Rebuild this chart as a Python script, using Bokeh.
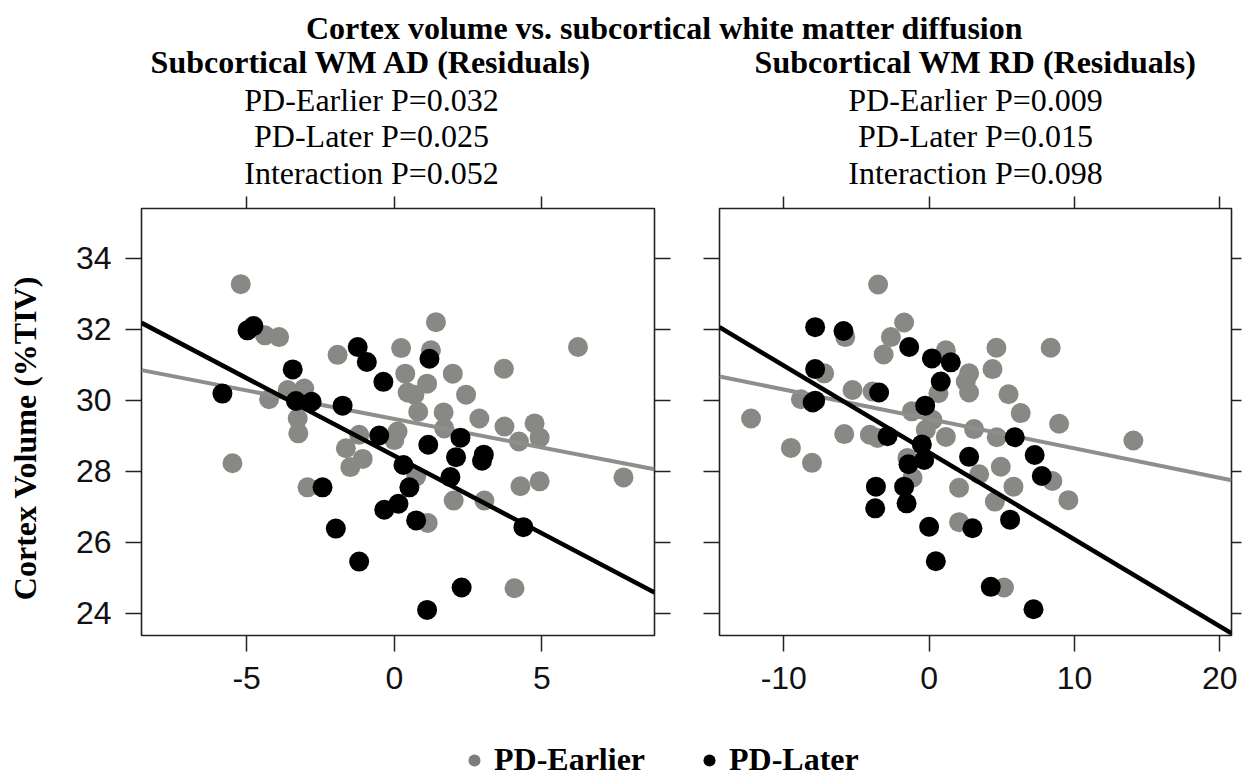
from bokeh.plotting import figure
from bokeh.models import Range1d, FixedTicker, LinearAxis, Legend, LegendItem
from bokeh.layouts import column, row
from bokeh.core.properties import value
from bokeh.embed import file_html
from bokeh.resources import INLINE

# ---------------- data ----------------
ad_earlier_x = [-5.20, -4.38, -3.90, -1.92, -4.24, -3.61, -3.05, -3.27, -3.25, -5.48, -1.64, -1.19,
                -1.07, -1.49, -2.94, 0.23, 1.41, 1.24, 0.37, 1.11, 1.98, 0.45, 0.68, 2.43, 3.71, 6.22,
                0.81, 1.67, 1.69, 2.88, 3.73, 4.75, 4.92, 4.22, 0.11, 0.00, 0.74, 2.01, 3.05, 4.27,
                4.92, 1.13, 4.07, 7.76]
ad_earlier_y = [33.27, 31.83, 31.78, 31.28, 30.03, 30.29, 30.33, 29.49, 29.07, 28.23, 28.65, 29.03,
                28.35, 28.12, 27.55, 31.47, 32.20, 31.41, 30.75, 30.47, 30.75, 30.22, 30.16, 30.16, 30.89, 31.50,
                29.68, 29.66, 29.21, 29.49, 29.26, 29.35, 28.95, 28.84, 29.12, 28.88, 27.86, 27.18, 27.18, 27.58,
                27.72, 26.55, 24.71, 27.83]
ad_later_x = [-4.97, -4.77, -5.82, -3.44, -3.33, -2.80, -1.75, -1.24, -0.93, -0.37, -0.51, 1.19,
              1.15, 2.24, 2.09, 3.03, 2.97, 1.90, 0.31, 0.51, 0.14, -0.34, 0.74, -2.43, -1.98,
              -1.19, 4.37, 2.28, 1.11]
ad_later_y = [31.97, 32.09, 30.19, 30.87, 29.98, 29.96, 29.85, 31.50, 31.08, 30.52, 29.01, 31.17,
              28.75, 28.95, 28.40, 28.47, 28.30, 27.84, 28.18, 27.55, 27.09, 26.92, 26.62, 27.55, 26.39,
              25.46, 26.43, 24.73, 24.10]

rd_earlier_x = [-3.51, -1.72, -2.63, -3.13, -5.77, 1.15, -7.22, -8.82, -5.27, -3.89, -12.25, -9.51,
                -8.06, -5.84, -4.08, -3.55, -1.19, 0.23, -0.23, 1.15, 0.64, -1.49, -1.14, 2.06, 2.06,
                2.52, 2.75, 2.75, 4.63, 8.36, 4.36, 5.46, 6.30, 8.94, 14.05, 3.09, 4.65, 4.93, 5.80,
                8.48, 9.58, 4.52, 3.44, 5.15]
rd_earlier_y = [33.26, 32.19, 31.78, 31.29, 31.78, 31.41, 30.76, 30.03, 30.29, 30.25, 29.49, 28.66,
                28.24, 29.05, 29.03, 28.94, 29.69, 29.45, 29.17, 28.97, 30.20, 28.38, 27.82, 27.54, 26.57,
                30.53, 30.76, 30.22, 31.48, 31.48, 30.88, 30.17, 29.64, 29.34, 28.87, 29.19, 28.96, 28.13, 27.57,
                27.73, 27.19, 27.15, 27.92, 24.73]
rd_later_x = [-7.84, -5.89, -1.37, 0.19, 1.49, 0.80, -7.84, -7.84, -3.44, -0.27, -2.86, -0.50,
              -0.34, -1.42, -3.66, -1.72, -1.55, -3.71, 0.00, 0.46, 5.89, 7.26, 7.75, 2.75, 5.57,
              2.98, 4.24, 7.18, -8.01]
rd_later_y = [32.06, 31.95, 31.50, 31.18, 31.07, 30.53, 30.88, 29.99, 30.22, 29.85, 28.99, 28.76,
              28.32, 28.20, 27.57, 27.57, 27.10, 26.96, 26.44, 25.47, 28.96, 28.46, 27.87, 28.41, 26.64,
              26.40, 24.75, 24.12, 29.94]

# fitted lines (intercept, slope)
ad_earlier_fit = (29.475, -0.1606)
ad_later_fit = (28.44, -0.437)
rd_earlier_fit = (29.475, -0.0829)
rd_later_fit = (28.53, -0.2447)

ad_xticks = [-5, 0, 5]
rd_xticks = [-10, 0, 10, 20]
y_ticks = [24, 26, 28, 30, 32, 34]

main_title = "Cortex volume vs. subcortical white matter diffusion"
panel_titles = ["Subcortical WM AD (Residuals)", "Subcortical WM RD (Residuals)"]
panel_stats = [["PD-Earlier P=0.032", "PD-Later P=0.025", "Interaction P=0.052"],
               ["PD-Earlier P=0.009", "PD-Later P=0.015", "Interaction P=0.098"]]
y_label = "Cortex Volume (%TIV)"
group_names = ["PD-Earlier", "PD-Later"]

# ---------------- style ----------------
GRAY_PT = "#888984"
GRAY_LN = "#8e8e8c"
BLACK = "#000000"
SERIF = "Liberation Serif"
SANS = "Liberation Sans"
W = 1243
HEAD_H = 192
PANEL_H = 530
FOOT_H = 56
YLAB_W = 60
FRAME_H = 429


def blank(width, height):
    p = figure(width=width, height=height, x_range=Range1d(0, width), y_range=Range1d(height, 0),
               x_axis_type=None, y_axis_type=None, toolbar_location=None, output_backend="svg",
               min_border=0, outline_line_color=None)
    p.grid.visible = False
    return p


# header with titles
head = blank(W, HEAD_H)
bx, by, bt, nx, ny, nt = [664], [27], [main_title], [], [], []
centers = [371, 975]
for c, t, stats in zip(centers, panel_titles, panel_stats):
    bx.append(c); by.append(61); bt.append(t)
    for k, s in enumerate(stats):
        nx.append(c); ny.append(99 + 36.5 * k); nt.append(s)
head.text(x=bx, y=by, text=bt, text_font=value(SERIF), text_font_style="bold",
          text_font_size="32px", text_align="center", text_baseline="alphabetic", text_color="black")
head.text(x=nx, y=ny, text=nt, text_font=value(SERIF), text_font_style="normal",
          text_font_size="32px", text_align="center", text_baseline="alphabetic", text_color="black")

# y label strip
ylab = blank(YLAB_W, PANEL_H)
ylab.text(x=[24.5], y=[285], text=[y_label], angle=1.5707963, text_font=value(SERIF),
          text_font_style="bold", text_font_size="32px", text_align="center",
          text_baseline="alphabetic", text_color="black")


def mirror_axis(ticks, tick_out):
    return LinearAxis(ticker=FixedTicker(ticks=ticks), axis_line_color=None,
                      major_tick_line_color="#222222", major_tick_line_width=1.5,
                      major_tick_out=tick_out, major_tick_in=0, minor_tick_line_color=None,
                      major_label_text_font_size="1px", major_label_text_color=None,
                      major_label_standoff=0)


def panel(width, xr, xticks, ex, ey, lx, ly, efit, lfit, border_left, border_right, border_top,
          show_ylabels, right_tick):
    p = figure(width=width, height=PANEL_H, x_range=Range1d(*xr), y_range=Range1d(23.38, 35.40),
               toolbar_location=None, output_backend="svg",
               min_border_left=border_left, min_border_right=border_right,
               min_border_top=border_top, min_border_bottom=PANEL_H - border_top - FRAME_H,
               outline_line_color="#222222", outline_line_width=1.6, background_fill_color="white")
    p.grid.visible = False
    for ax in p.axis:
        ax.axis_line_color = None
        ax.major_tick_line_color = "#222222"
        ax.major_tick_line_width = 1.5
        ax.major_tick_out = 16
        ax.major_tick_in = 0
        ax.minor_tick_line_color = None
        ax.major_label_text_font = SANS
        ax.major_label_text_font_size = "32px"
        ax.major_label_text_color = "#111111"
    p.xaxis.ticker = FixedTicker(ticks=xticks)
    p.xaxis.major_label_overrides = {t: str(t) for t in xticks}
    p.xaxis.major_label_standoff = 15
    p.yaxis.ticker = FixedTicker(ticks=y_ticks)
    p.yaxis.major_label_overrides = {t: str(t) for t in y_ticks}
    p.yaxis.major_label_standoff = 14
    if not show_ylabels:
        p.yaxis.major_label_text_font_size = "1px"
        p.yaxis.major_label_text_color = None
        p.yaxis.major_label_standoff = 0
    p.add_layout(mirror_axis(xticks, 12), "above")
    p.add_layout(mirror_axis(y_ticks, right_tick), "right")

    x0, x1 = xr
    p.scatter(ex, ey, size=20, fill_color=GRAY_PT, line_color=None)
    p.line([x0, x1], [efit[0] + efit[1] * x0, efit[0] + efit[1] * x1], line_color=GRAY_LN, line_width=4)
    p.scatter(lx, ly, size=20, fill_color=BLACK, line_color=None)
    p.line([x0, x1], [lfit[0] + lfit[1] * x0, lfit[0] + lfit[1] * x1], line_color=BLACK, line_width=4.6)
    return p


pL = panel(626, (-8.56, 8.81), ad_xticks, ad_earlier_x, ad_earlier_y, ad_later_x, ad_later_y,
           ad_earlier_fit, ad_later_fit, 81, 32, 14, True, 16)
pR = panel(557, (-14.42, 20.80), rd_xticks, rd_earlier_x, rd_earlier_y, rd_later_x, rd_later_y,
           rd_earlier_fit, rd_later_fit, 33, 12, 16, False, 10)

# footer legend (keys only; their glyphs sit at NaN so nothing is drawn in the strip)
nan = float("nan")
foot = blank(W, FOOT_H)
r1 = foot.scatter([nan], [nan], size=12, fill_color="#807c7c", line_color=None)
r2 = foot.scatter([nan], [nan], size=12, fill_color=BLACK, line_color=None)
leg = Legend(items=[LegendItem(label=group_names[0], renderers=[r1]),
                    LegendItem(label=group_names[1], renderers=[r2])],
             orientation="horizontal", location=(459, 0), glyph_width=30, glyph_height=30,
             label_standoff=5, spacing=49, padding=0, margin=0, border_line_color=None,
             background_fill_alpha=0, label_text_font=SERIF, label_text_font_style="bold",
             label_text_font_size="32px", label_text_color="black")
foot.add_layout(leg)

layout = column(head, row(ylab, pL, pR), foot)
open("out.html", "w").write(file_html(layout, INLINE))
